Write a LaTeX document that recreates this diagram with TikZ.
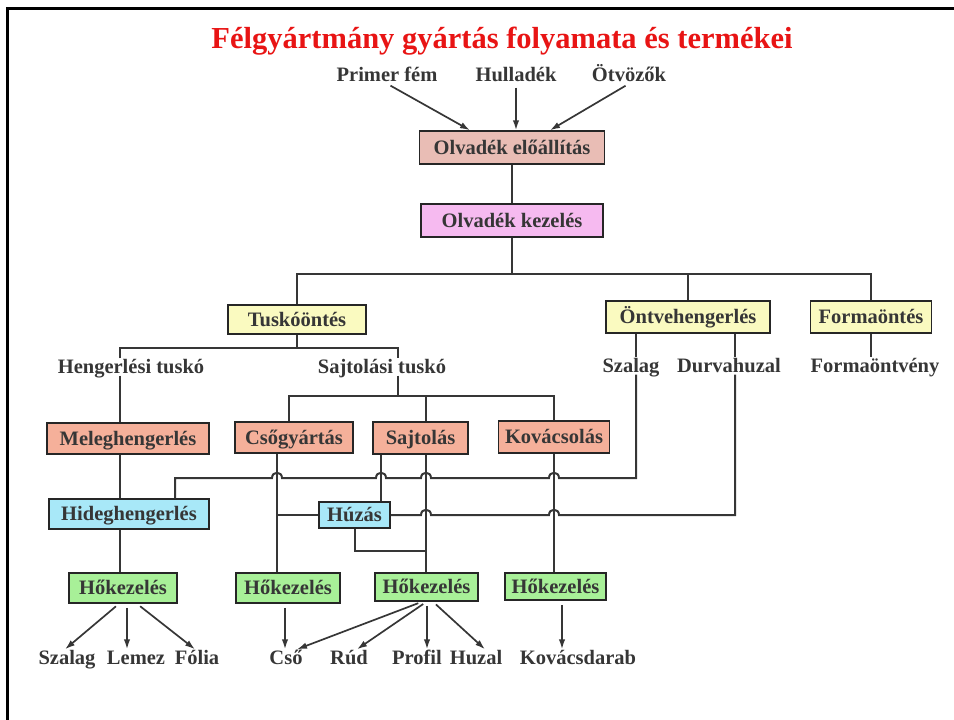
\documentclass[tikz,border=0pt]{standalone}
\usepackage{fontspec}
\setmainfont{Liberation Serif}
\usetikzlibrary{arrows.meta}
\definecolor{ink}{HTML}{363636}
\definecolor{olvfill}{HTML}{E9BDB5}
\definecolor{kezfill}{HTML}{F6BAF0}
\definecolor{yelfill}{HTML}{FAFAC0}
\definecolor{salfill}{HTML}{F5B09A}
\definecolor{blufill}{HTML}{A8E8F8}
\definecolor{grnfill}{HTML}{A8F098}
\definecolor{titred}{HTML}{E81414}
\tikzset{
	txt/.style={text=ink, font=\bfseries\fontsize{20.5}{24}\selectfont, text height=13pt, text depth=0pt},
	box/.style={txt, draw=black!85, line width=1.5pt, inner sep=0pt},
	lbl/.style={txt, inner sep=2pt},
	link/.style={draw=ink, line width=2pt},
	arr/.style={link, line width=1.7pt, -{Latex[length=10pt,width=6.5pt]}, shorten <=4pt}
}
\newcommand\hop[2]{-- ({#1-5},#2) .. controls ({#1-5},{#2-7}) and ({#1+5},{#2-7}) .. ({#1+5},#2)}
\begin{document}
\begin{tikzpicture}[x=1pt,y=-1pt]
	\useasboundingbox (0,0) rectangle (954,720);
	\draw[line width=3pt] (7,722) -- (7,8) -- (956,8);
	\node[font=\bfseries\fontsize{30.5}{34}\selectfont, text=titred, text height=20pt, text depth=0pt, inner sep=0pt] (ttl) at (502,38) {Félgyártmány gyártás folyamata és termékei};
	\foreach \N/\X/\Y/\T in {primer/387/75/Primer fém, hull/516/75/Hulladék, otv/629/75/Ötvözők,
		heng/131/367/Hengerlési tuskó, sajtt/382/367/Sajtolási tuskó, szal/631/366/Szalag,
		durva/729/366/Durvahuzal, formao/875/366/Formaöntvény,
		szalb/67/658/Szalag, lemez/136/658/Lemez, folia/197/658/Fólia, csob/286/658/Cső,
		rud/349/658/Rúd, profil/417/658/Profil, huzal/476/658/Huzal, kovd/578/658/Kovácsdarab}
	{\node[lbl] (\N) at (\X,\Y) {\T};}
	\foreach \N/\X/\Y/\W/\H/\F/\T in {olv/512/147.5/185/33/olvfill/Olvadék előállítás,
		kez/512/220.5/182/33/kezfill/Olvadék kezelés,
		tusk/297/319.5/138/29/yelfill/Tuskóöntés, ontv/688/317/164/32/yelfill/Öntvehengerlés,
		forma/871/317/121/32/yelfill/Formaöntés,
		meleg/128/438.5/162/31/salfill/Meleghengerlés, cso/294/437.5/118/31/salfill/Csőgyártás,
		sajt/420.5/438/95/32/salfill/Sajtolás, kov/554/437/111/32/salfill/Kovácsolás,
		hideg/129/514/160/30/blufill/Hideghengerlés, huz/354.5/515/71/26/blufill/Húzás,
		h1/123/588/108/30/grnfill/Hőkezelés, h2/288/588/104/30/grnfill/Hőkezelés,
		h3/426.5/587/103/28/grnfill/Hőkezelés, h4/555.5/586.5/101/27/grnfill/Hőkezelés}
	{\node[box, fill=\F, minimum width=\W, minimum height=\H] (\N) at (\X,\Y) {\T};}
	\foreach \N/\X in {c1/120, cA/277, cB/289, cC/381, cD/426, cE/554, cF/636, cG/735, cH/175}
	{\coordinate (\N) at (\X,0);}
	\coordinate (b1) at (512,274);
	\coordinate (t1) at (297,348);
	\coordinate (c2) at (398,0);
	\coordinate (s2) at (398,396);
	\coordinate (hz) at (426,551);
	\draw[arr] (primer.south) -- ([xshift=-42pt]olv.north);
	\draw[arr] (hull.south) -- ([xshift=4pt]olv.north);
	\draw[arr] (otv.south) -- ([xshift=38pt]olv.north);
	\draw[link] (olv.south) -- (kez.north);
	\draw[link] (kez.south) -- (b1);
	\draw[link] (tusk.north) |- (b1) -| (forma.north);
	\draw[link] (ontv.north) -- (ontv.north |- b1);
	\draw[link] (ontv.south -| cF) -- (szal.north -| cF);
	\draw[link] (ontv.south -| cG) -- (durva.north -| cG);
	\draw[link] (forma.south) -- (formao.north -| forma.south);
	\draw[link] (tusk.south) -- (t1);
	\draw[link] (heng.north -| c1) |- (t1) -| (sajtt.north -| c2);
	\draw[link] (sajtt.south -| c2) -- (s2);
	\draw[link] (cso.north -| cB) |- (s2) -| (kov.north -| cE);
	\draw[link] (sajt.north -| cD) |- (s2);
	\draw[link] (heng.south -| c1) -- (meleg.north -| c1);
	\draw[link] (meleg.south -| c1) -- (hideg.north -| c1);
	\draw[link] (hideg.south -| c1) -- (h1.north -| c1);
	\draw[link] (cso.south -| cA) -- (h2.north -| cA);
	\draw[link] (sajt.south -| cC) -- (huz.north -| cC);
	\draw[link] (sajt.south -| cD) -- (h3.north -| cD);
	\draw[link] (kov.south -| cE) -- (h4.north -| cE);
	\draw[link] (huz.south) |- (hz);
	\draw[link] (hideg.north -| cH) -- (175,478) \hop{277}{478} \hop{381}{478} \hop{426}{478} \hop{554}{478} -| (szal.south -| cF);
	\draw[link] (huz.west -| cA) -- (huz.west);
	\draw[link] (huz.east) \hop{426}{515} \hop{554}{515} -| (durva.south -| cG);
	\draw[arr] ([xshift=-4pt]h1.south) -- ([xshift=-2pt]szalb.north);
	\draw[arr] ([xshift=4pt]h1.south) -- ([xshift=-9pt]lemez.north);
	\draw[arr] ([xshift=14pt]h1.south) -- ([xshift=-2pt]folia.north);
	\draw[arr] ([xshift=-3pt]h2.south) -- ([xshift=-1pt]csob.north);
	\draw[arr] ([xshift=-4.5pt]h3.south) -- ([xshift=11pt]csob.north);
	\draw[arr] (h3.south) -- ([xshift=8pt]rud.north);
	\draw[arr] ([xshift=0.5pt]h3.south) -- ([xshift=10pt]profil.north);
	\draw[arr] ([xshift=6.5pt]h3.south) -- ([xshift=9pt]huzal.north);
	\draw[arr] ([xshift=6.5pt]h4.south) -- ([xshift=-16pt]kovd.north);
\end{tikzpicture}
\end{document}
